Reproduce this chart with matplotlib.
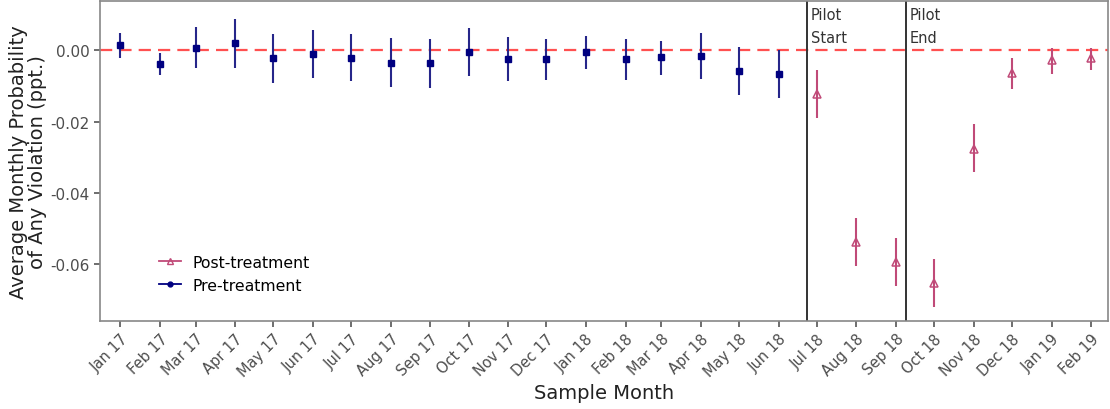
import datetime as dt
import matplotlib
matplotlib.use("Agg")
import matplotlib.pyplot as plt
import matplotlib.dates as mdates
from matplotlib.lines import Line2D

# months shown on the x axis
months = ["Jan 17", "Feb 17", "Mar 17", "Apr 17", "May 17", "Jun 17", "Jul 17",
          "Aug 17", "Sep 17", "Oct 17", "Nov 17", "Dec 17", "Jan 18", "Feb 18",
          "Mar 18", "Apr 18", "May 18", "Jun 18", "Jul 18", "Aug 18", "Sep 18",
          "Oct 18", "Nov 18", "Dec 18", "Jan 19", "Feb 19"]

# pre-treatment estimates (Jan 17 - Jun 18)
pre_est = [0.0014, -0.0038, 0.0007, 0.0019, -0.0023, -0.0010, -0.0021, -0.0035,
           -0.0035, -0.0004, -0.0025, -0.0025, -0.0006, -0.0025, -0.0020, -0.0017,
           -0.0057, -0.0067]
pre_hi = [0.0048, -0.0007, 0.0066, 0.0086, 0.0044, 0.0056, 0.0045, 0.0033,
          0.0031, 0.0061, 0.0036, 0.0030, 0.0039, 0.0030, 0.0027, 0.0048,
          0.0008, 0.0000]
pre_lo = [-0.0023, -0.0070, -0.0051, -0.0049, -0.0091, -0.0077, -0.0087, -0.0103,
          -0.0105, -0.0073, -0.0087, -0.0084, -0.0053, -0.0084, -0.0069, -0.0081,
          -0.0125, -0.0133]

# post-treatment estimates (Jul 18 - Feb 19)
post_est = [-0.0123, -0.0536, -0.0594, -0.0652, -0.0276, -0.0065, -0.0028, -0.0023]
post_hi = [-0.0056, -0.0470, -0.0526, -0.0586, -0.0208, -0.0021, 0.0007, 0.0005]
post_lo = [-0.0189, -0.0603, -0.0659, -0.0720, -0.0341, -0.0110, -0.0066, -0.0055]

pilot_start = dt.date(2018, 6, 23)
pilot_end = dt.date(2018, 9, 9)

dates = [dt.datetime.strptime(m, "%b %y").date() for m in months]
n_pre = len(pre_est)
pre_dates = dates[:n_pre]
post_dates = dates[n_pre:]

navy = "#000080"
pink = "#c04a78"

fig = plt.figure(figsize=(11.1, 4.1), dpi=100)
ax = fig.add_axes([0.090, 0.214, 0.908, 0.781])

ax.axhline(0, color="#ff5050", linestyle=(0, (5.5, 3.2)), linewidth=1.6, zorder=1)

# error bars drawn as vertical segments
ax.vlines(pre_dates, pre_lo, pre_hi, color="#26268a", linewidth=1.5, zorder=2)
ax.plot(pre_dates, pre_est, linestyle="none", marker="s", markersize=4.2,
        color=navy, zorder=3)
ax.vlines(post_dates, post_lo, post_hi, color=pink, linewidth=1.5, zorder=2)
ax.plot(post_dates, post_est, linestyle="none", marker="^", markersize=6,
        markerfacecolor="none", markeredgecolor=pink, markeredgewidth=1.1, zorder=3)

for d, lab in [(pilot_start, "Pilot\nStart"), (pilot_end, "Pilot\nEnd")]:
    ax.axvline(d, color="#333333", linewidth=1.4, zorder=2)
    ax.text(mdates.date2num(d) + 3, 0.0122, lab, ha="left", va="top",
            fontsize=10.5, color="#333333", linespacing=1.7)

ax.set_xlim(dt.date(2016, 12, 16), dt.date(2019, 2, 14))
ax.set_ylim(-0.0759, 0.01375)
ax.set_xticks(dates)
ax.set_xticklabels(months, rotation=45, ha="right", rotation_mode="anchor")
ax.set_yticks([0.0, -0.02, -0.04, -0.06])
ax.set_yticklabels(["0.00", "-0.02", "-0.04", "-0.06"])
ax.tick_params(axis="both", colors="#555555", labelcolor="#4d4d4d",
               labelsize=10.5, length=4, width=1.2)
ax.tick_params(axis="y", labelsize=11)
ax.tick_params(axis="x", pad=3)
for s in ax.spines.values():
    s.set_color("#888888")
    s.set_linewidth(1.2)

ax.set_xlabel("Sample Month", fontsize=14, color="#222222", labelpad=3)
ax.set_ylabel("Average Monthly Probability\nof Any Violation (ppt.)",
              fontsize=14, color="#222222", labelpad=2, linespacing=1.0)

handles = [
    Line2D([], [], color=pink, marker="^", markersize=5, markerfacecolor="none",
           markeredgecolor=pink, linewidth=1.3),
    Line2D([], [], color=navy, marker="o", markersize=3.5, linewidth=1.3),
]
ax.legend(handles, ["Post-treatment", "Pre-treatment"], loc="lower left",
          bbox_to_anchor=(0.045, 0.045), frameon=False, fontsize=11.3,
          handlelength=1.4, handletextpad=0.7, labelspacing=0.5)

fig.savefig("out.png", dpi=100)
